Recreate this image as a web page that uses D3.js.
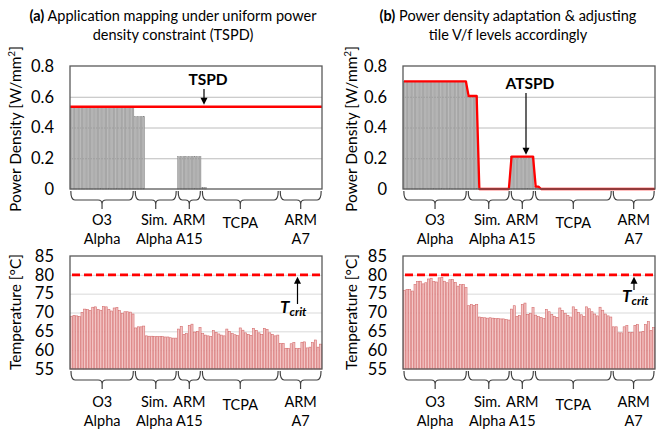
<!DOCTYPE html>
<html>
<head>
<meta charset="utf-8">
<script src="https://cdn.jsdelivr.net/npm/d3@7"></script>
<style>
  body { margin: 0; background: #fff; }
  svg { font-family: Lato, "Open Sans", sans-serif; }
</style>
</head>
<body>
<svg id="chart" width="665" height="434"></svg>
<script>
// DATA
const groupLabels = [["O3", "Alpha"], ["Sim.", "Alpha"], ["ARM", "A15"], ["TCPA"], ["ARM", "A7"]]
const groupSizes = [24, 16, 9, 29, 16]
const powerTicks = [0, 0.2, 0.4, 0.6, 0.8]
const tempTicks = [55, 60, 65, 70, 75, 80, 85]
const tspd = 0.535
const tCrit = 80

// power density per tile, panel (a)
const powerA = [
  0.53, 0.53, 0.53, 0.53, 0.53, 0.53, 0.53, 0.53, 0.53, 0.53, 0.53, 0.53,
  0.53, 0.53, 0.53, 0.53, 0.53, 0.53, 0.53, 0.53, 0.53, 0.53, 0.53, 0.53,
  0.47, 0.47, 0.47, 0.47, 0, 0, 0, 0, 0, 0, 0, 0, 0, 0, 0, 0,
  0.21, 0.21, 0.21, 0.21, 0.21, 0.21, 0.21, 0.21, 0.21,
  0.01, 0.01, 0, 0, 0, 0, 0, 0, 0, 0, 0, 0, 0, 0, 0, 0, 0, 0, 0, 0, 0, 0, 0, 0, 0, 0, 0, 0, 0,
  0, 0, 0, 0, 0, 0, 0, 0, 0, 0, 0, 0, 0, 0, 0, 0
]
// power density per tile, panel (b)
const powerB = [
  0.70, 0.70, 0.70, 0.70, 0.70, 0.70, 0.70, 0.70, 0.70, 0.70, 0.70, 0.70,
  0.70, 0.70, 0.70, 0.70, 0.70, 0.70, 0.70, 0.70, 0.70, 0.70, 0.70, 0.70,
  0.605, 0.605, 0.605, 0.605, 0, 0, 0, 0, 0, 0, 0, 0, 0, 0, 0, 0,
  0.21, 0.21, 0.21, 0.21, 0.21, 0.21, 0.21, 0.21, 0.21,
  0.015, 0.015, 0, 0, 0, 0, 0, 0, 0, 0, 0, 0, 0, 0, 0, 0, 0, 0, 0, 0, 0, 0, 0, 0, 0, 0, 0, 0, 0,
  0, 0, 0, 0, 0, 0, 0, 0, 0, 0, 0, 0, 0, 0, 0, 0
]
// temperature per tile, panel (a)
const tempA = [
  69.0, 69.2, 69.1, 68.9, 70.0, 70.9, 70.8, 70.5, 71.4, 71.5, 70.8, 70.6,
  71.6, 71.5, 70.8, 70.4, 71.2, 71.3, 70.5, 69.8, 70.2, 70.2, 70.1, 69.6,
  65.9, 66.2, 66.2, 66.4, 63.8, 63.7, 63.7, 63.6, 63.6, 63.6, 63.6, 63.5, 63.5, 63.3, 63.2, 63.2,
  65.6, 66.3, 64.2, 64.4, 66.6, 66.9, 64.8, 65.0, 66.0,
  64.4, 64.0, 63.8, 63.6, 65.2, 64.7, 64.3, 64.0, 63.8, 65.6, 65.0, 64.4, 64.1, 63.9, 65.9,
  65.3, 64.6, 64.2, 63.9, 65.8, 65.2, 64.6, 64.2, 65.8, 65.5, 64.6, 64.2, 63.8, 64.0,
  61.8, 61.8, 60.5, 60.5, 61.7, 62.0, 60.5, 60.5, 62.1, 62.2, 60.6, 60.8, 62.0, 62.7, 60.8, 61.6
]
// temperature per tile, panel (b)
const tempB = [
  75.9, 76.1, 76.1, 75.7, 77.4, 78.2, 78.3, 77.6, 77.9, 78.9, 79.1, 78.2,
  78.1, 79.2, 79.3, 78.3, 77.9, 78.7, 78.8, 78.0, 77.0, 77.4, 77.4, 76.6,
  71.8, 72.1, 71.9, 72.1, 68.8, 68.7, 68.6, 68.5, 68.6, 68.5, 68.4, 68.4, 68.3, 68.3, 68.1, 68.0,
  70.9, 71.8, 68.9, 69.2, 72.1, 72.5, 69.5, 69.8, 71.3,
  69.3, 68.9, 68.7, 68.4, 70.8, 70.2, 69.5, 69.0, 68.7, 71.2, 70.5, 69.8, 69.2, 68.8, 71.5,
  70.8, 70.0, 69.4, 68.9, 71.5, 71.0, 70.2, 69.6, 69.1, 71.4, 70.6, 69.6, 69.1, 68.8,
  66.2, 66.2, 64.6, 64.6, 66.2, 66.5, 64.7, 64.7, 66.6, 66.8, 64.8, 65.0, 66.8, 67.6, 65.2, 66.0
]

const svg = d3.select("#chart")
const tiles = d3.range(d3.sum(groupSizes))
const groupStarts = [0, ...d3.cumsum(groupSizes)]

function arrow(g, x, yFrom, yTo) {
  const dir = yTo > yFrom ? 1 : -1
  g.append("line")
    .attr("x1", x).attr("x2", x)
    .attr("y1", yFrom).attr("y2", yTo - dir * 5)
    .attr("stroke", "#000").attr("stroke-width", 1.2)
  g.append("path")
    .attr("d", `M${x - 3.5},${yTo - dir * 7} L${x + 3.5},${yTo - dir * 7} L${x},${yTo} Z`)
    .attr("fill", "#000")
}

function braces(g, xScale, yTop, labelY) {
  const pad = (xScale.step() - xScale.bandwidth()) / 2
  groupSizes.forEach((n, i) => {
    const a = xScale(groupStarts[i]) - pad + 1
    const b = xScale(groupStarts[i + 1] - 1) + xScale.bandwidth() + pad - 1
    const c = (a + b) / 2
    const yh = yTop + 9, yt = yTop + 18, r = 4
    g.append("path")
      .attr("d", `M${a},${yTop} Q${a},${yh} ${a + r},${yh} L${c - r},${yh} Q${c},${yh} ${c},${yh + r} L${c},${yt}
                  M${c},${yh + r} Q${c},${yh} ${c + r},${yh} L${b - r},${yh} Q${b},${yh} ${b},${yTop}`)
      .attr("fill", "none").attr("stroke", "#404040").attr("stroke-width", 1.2)
    const lines = groupLabels[i]
    const t = g.append("text")
      .attr("text-anchor", "middle")
      .attr("font-size", 14.5)
      .attr("fill", "#000")
    lines.forEach((s, k) => {
      t.append("tspan")
        .attr("x", i === 1 ? c - 1.5 : c)
        .attr("y", lines.length === 1 ? labelY + 3 : labelY + k * 18.5)
        .text(s)
    })
  })
}

function yLabel(g, x, y, parts) {
  const t = g.append("text")
    .attr("transform", `translate(${x},${y}) rotate(-90)`)
    .attr("text-anchor", "middle")
    .attr("font-size", 15.5)
    .attr("fill", "#000")
  parts.forEach(p => {
    const s = t.append("tspan").text(p.text)
    if (p.sup) s.attr("font-size", 10).attr("dy", -6)
    if (p.after) s.attr("dy", 6)
  })
}

function powerPanel(cfg) {
  const g = svg.append("g")
  const x = d3.scaleBand().domain(tiles).range([cfg.x0, cfg.x1]).paddingInner(0.33).paddingOuter(0.1)
  const y = d3.scaleLinear().domain([0, 0.8]).range([189, 66])

  // grid
  g.append("g")
    .attr("transform", `translate(${cfg.x0},0)`)
    .call(d3.axisLeft(y).tickValues(powerTicks.slice(1, -1)).tickSize(-(cfg.x1 - cfg.x0)).tickFormat(""))
    .call(s => s.select(".domain").remove())
    .selectAll("line").attr("stroke", "#bcbcbc").attr("stroke-width", 1)

  // bars
  g.selectAll("rect.bar")
    .data(cfg.values.map((v, i) => ({ i, v })).filter(d => d.v > 0))
    .join("rect")
    .attr("class", "bar")
    .attr("x", d => x(d.i))
    .attr("y", d => y(d.v))
    .attr("width", x.bandwidth())
    .attr("height", d => y(0) - y(d.v))
    .attr("fill", "#b4b4b4")
    .attr("stroke", "#858585")
    .attr("stroke-width", 0.5)

  // red constraint line
  if (cfg.flat !== undefined) {
    g.append("line")
      .attr("x1", cfg.x0).attr("x2", cfg.x1)
      .attr("y1", y(cfg.flat)).attr("y2", y(cfg.flat))
      .attr("stroke", "#ff0000").attr("stroke-width", 2.6)
  } else {
    const pts = [[cfg.x0 + 1, cfg.values[0]]]
      .concat(cfg.values.map((v, i) => [x(i) + x.bandwidth() / 2, v]))
      .concat([[cfg.x1, cfg.values[cfg.values.length - 1]]])
    g.append("path")
      .datum(pts)
      .attr("d", d3.line().x(d => d[0]).y(d => y(d[1])))
      .attr("fill", "none").attr("stroke", "#ff0000").attr("stroke-width", 2.3)
      .attr("stroke-linejoin", "round")
  }

  // frame
  g.append("rect")
    .attr("x", cfg.x0).attr("y", 66)
    .attr("width", cfg.x1 - cfg.x0).attr("height", 189 - 66)
    .attr("fill", "none").attr("stroke", "#595959").attr("stroke-width", 1.3)

  // y axis
  g.append("g")
    .attr("transform", `translate(${cfg.x0 - 1},0)`)
    .call(d3.axisLeft(y).tickValues(powerTicks).tickSize(0).tickPadding(15)
      .tickFormat(d => d === 0 ? "0" : d3.format(".1f")(d)))
    .call(s => s.select(".domain").remove())
    .selectAll("text").attr("font-size", 16.5).attr("font-family", "Lato, sans-serif").attr("fill", "#000")

  yLabel(g, cfg.labelX, 129, [{ text: "Power Density [W/mm" }, { text: "2", sup: true }, { text: "]", after: true }])
  braces(g, x, 191, 225)

  // annotation
  g.append("text")
    .attr("x", cfg.annX).attr("y", cfg.annY)
    .attr("text-anchor", "middle")
    .attr("font-size", 15.5).attr("font-weight", "bold")
    .text(cfg.annText)
  arrow(g, cfg.arrowX, cfg.annY + 4, y(cfg.arrowTo) - 2)
}

function tempPanel(cfg) {
  const g = svg.append("g")
  const x = d3.scaleBand().domain(tiles).range([cfg.x0, cfg.x1]).paddingInner(0.22).paddingOuter(0.1)
  const y = d3.scaleLinear().domain([55, 85]).range([369, 256])

  g.append("g")
    .attr("transform", `translate(${cfg.x0},0)`)
    .call(d3.axisLeft(y).tickValues(tempTicks.slice(1, -1)).tickSize(-(cfg.x1 - cfg.x0)).tickFormat(""))
    .call(s => s.select(".domain").remove())
    .selectAll("line").attr("stroke", "#d9d9d9").attr("stroke-width", 1)

  g.selectAll("rect.bar")
    .data(cfg.values)
    .join("rect")
    .attr("class", "bar")
    .attr("x", (d, i) => x(i))
    .attr("y", d => y(d))
    .attr("width", x.bandwidth())
    .attr("height", d => y(55) - y(d))
    .attr("fill", "#f3c6c6")
    .attr("stroke", "#d46b6b")
    .attr("stroke-width", 0.6)

  // critical temperature
  g.append("line")
    .attr("x1", cfg.x0 + 2).attr("x2", cfg.x1)
    .attr("y1", y(tCrit)).attr("y2", y(tCrit))
    .attr("stroke", "#ff0000").attr("stroke-width", 2.6)
    .attr("stroke-dasharray", "8,4")

  g.append("rect")
    .attr("x", cfg.x0).attr("y", 256)
    .attr("width", cfg.x1 - cfg.x0).attr("height", 369 - 256)
    .attr("fill", "none").attr("stroke", "#595959").attr("stroke-width", 1.3)

  g.append("g")
    .attr("transform", `translate(${cfg.x0 - 1},0)`)
    .call(d3.axisLeft(y).tickValues(tempTicks).tickSize(0).tickPadding(15))
    .call(s => s.select(".domain").remove())
    .selectAll("text").attr("font-size", 16.5).attr("font-family", "Lato, sans-serif").attr("fill", "#000")

  yLabel(g, cfg.labelX, 312, [{ text: cfg.tempLabel }])
  braces(g, x, 371, 407)

  // T_crit annotation
  const t = g.append("text")
    .attr("x", cfg.critX).attr("y", cfg.critY)
    .attr("font-weight", "bold").attr("font-style", "italic")
  t.append("tspan").attr("font-size", 17).text("T")
  t.append("tspan").attr("font-size", 12).attr("dy", 3).text("crit")
  arrow(g, cfg.critArrowX, cfg.critArrowFrom, y(tCrit) + 2)
}

function title(x, bold, line1, line2) {
  const t = svg.append("text").attr("text-anchor", "middle").attr("font-size", 14.5)
  const l1 = t.append("tspan").attr("x", x).attr("y", 21)
  l1.append("tspan").attr("font-weight", "bold").text(bold)
  l1.append("tspan").text(" " + line1)
  t.append("tspan").attr("x", x).attr("y", 40).text(line2)
}

title(173, "(a)", "Application mapping under uniform power", "density constraint (TSPD)")
title(508, "(b)", "Power density adaptation & adjusting", "tile V/f levels accordingly")

powerPanel({ x0: 70, x1: 322, values: powerA, flat: tspd, labelX: 21,
  annText: "TSPD", annX: 208, annY: 85, arrowX: 204, arrowTo: tspd })
powerPanel({ x0: 403, x1: 655, values: powerB, labelX: 357,
  annText: "ATSPD", annX: 530, annY: 89, arrowX: 526, arrowTo: 0.21 })

tempPanel({ x0: 70, x1: 322, values: tempA, labelX: 21, tempLabel: "Temperature  [°C]",
  critX: 280, critY: 313, critArrowX: 297.5, critArrowFrom: 304 })
tempPanel({ x0: 403, x1: 655, values: tempB, labelX: 357, tempLabel: "Temperature [°C]",
  critX: 622, critY: 302, critArrowX: 634, critArrowFrom: 290 })
</script>
</body>
</html>
